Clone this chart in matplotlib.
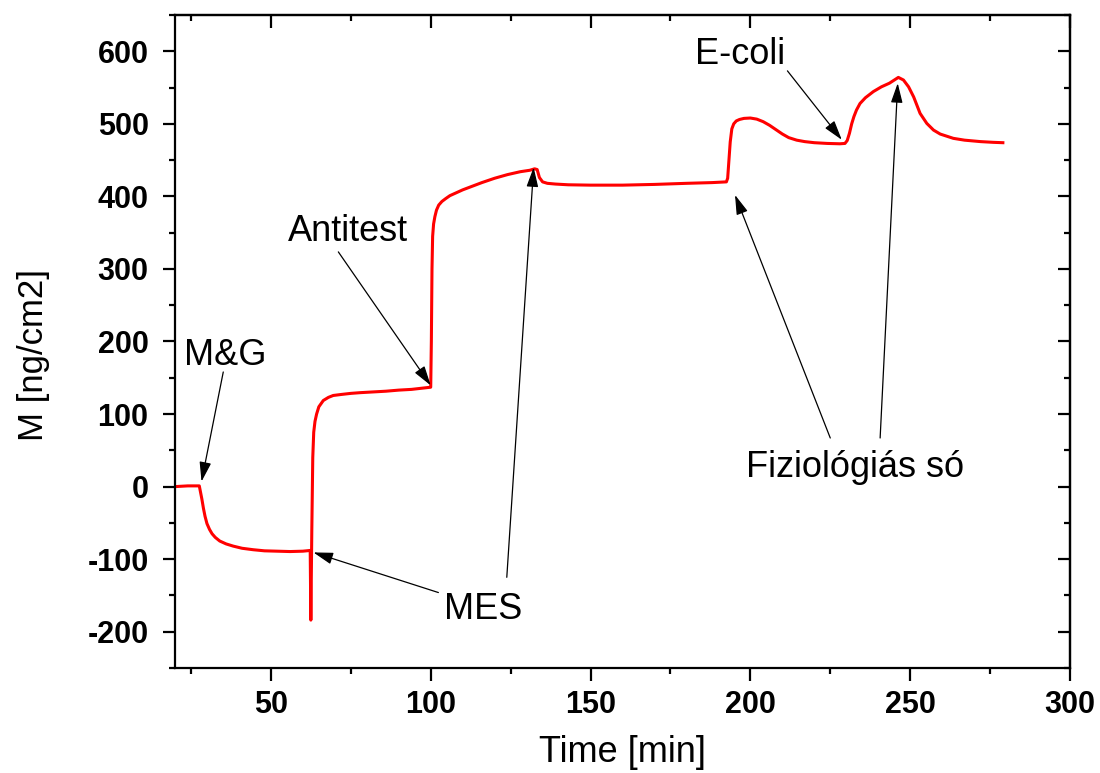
import matplotlib
matplotlib.use("Agg")
import matplotlib.pyplot as plt
from matplotlib.ticker import MultipleLocator

plt.rcParams['font.family'] = ['Liberation Sans', 'DejaVu Sans']
plt.rcParams['axes.unicode_minus'] = False

# ---- data ----
time_min = [20, 24, 27.6, 28.0, 28.4, 28.9, 29.4, 30.0, 30.8, 31.6, 32.6, 34.0, 36.0, 38.2,
            41, 44.5, 48, 52, 56, 60, 62.3, 62.5, 62.8, 63.1, 63.4, 63.8, 64.3, 65.0, 66.4,
            68, 69.5, 72, 75, 78, 82, 86, 90, 94, 98, 100.0, 100.2, 100.4, 100.6, 100.9,
            101.3, 101.8, 102.5, 103.5, 104.7, 106, 108, 110, 113, 116, 120, 124, 128, 131,
            132.5, 133.3, 134, 135, 136.5, 139, 143, 150, 160, 170, 180, 188, 192.5, 192.9,
            193.3, 193.7, 194.2, 194.8, 195.6, 196.6, 198, 200, 202, 204, 206, 208, 210, 212,
            214.5, 217, 220, 224, 228, 229.6, 230.3, 231, 231.7, 232.4, 233.2, 234.3, 236,
            238.5, 241, 243.5, 246.3, 247.9, 249.5, 251.1, 253.1, 255.2, 257.3, 259.4, 263.5,
            267, 272, 276, 279]
mass = [0, 1, 1, -8, -17, -30, -41, -51, -59, -65, -70, -75, -79, -82,
        -85, -87, -88.5, -89, -89.5, -89, -88, -184, -60, 40, 75, 90, 100, 110, 118.7,
        123, 125.6, 127, 128.5, 129.5, 130.5, 131.5, 133, 134, 136, 137, 200, 300, 345, 362,
        372, 381, 388, 393, 397, 401, 405, 409, 414, 419, 425, 430, 434, 436,
        438, 437, 426, 420, 418, 417, 416, 415.5, 415.5, 416.5, 418, 419, 420, 425,
        450, 475, 493, 500, 504, 506, 507.5, 508, 506.5, 503, 498, 492, 486, 481,
        477.5, 475.5, 474, 473, 472.5, 473, 477, 487, 500, 510, 519, 528, 536,
        544.5, 551, 556, 564, 560.4, 551, 537, 514.4, 500.6, 491.4, 485.9, 480,
        477.5, 475.5, 474.5, 474]

# annotations: label, text position, list of (tail, head) arrows
labels = ["M&G", "Antitest", "MES", "E-coli", "Fiziológiás só"]
label_pos = [(35.6, 181), (74, 351), (116.5, -170), (196.8, 595), (232.8, 26)]
arrow_tails = [[(35.1, 158)], [(71.1, 323.5)], [(102.4, -146), (123.8, -125)],
               [(211.6, 573)], [(225, 67), (240.6, 67)]]
arrow_heads = [[(28.3, 7)], [(100, 139.5)], [(63.3, -90.7), (132.2, 440)],
               [(228.6, 478)], [(195.2, 402), (246.1, 556)]]

x_ticks = [50, 100, 150, 200, 250, 300]
y_ticks = [-200, -100, 0, 100, 200, 300, 400, 500, 600]

fig = plt.figure(figsize=(11, 7.73), dpi=100)
ax = fig.add_axes([175/1100, 1-668/773, (1070-175)/1100, (668-15)/773])

ax.plot(time_min, mass, color='#ff0000', lw=2.2, solid_joinstyle='round')

ax.set_xlim(20, 300)
ax.set_ylim(-250, 650)
ax.set_xticks(x_ticks)
ax.set_yticks(y_ticks)
ax.xaxis.set_minor_locator(MultipleLocator(25))
ax.yaxis.set_minor_locator(MultipleLocator(50))

for s in ax.spines.values():
    s.set_linewidth(1.6)
ax.tick_params(which='major', direction='out', length=9, width=1.6,
               labelsize=22, top=False, right=False)
ax.tick_params(which='minor', direction='out', length=4.5, width=1.6, top=False, right=False)
for lab in ax.get_xticklabels() + ax.get_yticklabels():
    lab.set_fontweight('bold')
ax.tick_params(axis='x', pad=7)
ax.tick_params(axis='y', pad=10)

top = ax.secondary_xaxis('top')
top.set_xticks(x_ticks)
top.xaxis.set_minor_locator(MultipleLocator(25))
top.tick_params(which='major', direction='in', length=9, width=1.6, labeltop=False)
top.tick_params(which='minor', direction='in', length=4.5, width=1.6)
top.spines['top'].set_linewidth(1.6)

right = ax.secondary_yaxis('right')
right.set_yticks(y_ticks)
right.yaxis.set_minor_locator(MultipleLocator(50))
right.tick_params(which='major', direction='in', length=9, width=1.6, labelright=False)
right.tick_params(which='minor', direction='in', length=4.5, width=1.6)
right.spines['right'].set_linewidth(1.6)

ax.set_xlabel("Time [min]", fontsize=26, labelpad=11)
ax.set_ylabel("M [ng/cm2]", fontsize=25)
ax.yaxis.set_label_coords(-0.14, 0.48)

for lab, pos, tails, heads in zip(labels, label_pos, arrow_tails, arrow_heads):
    ax.text(pos[0], pos[1], lab, fontsize=26, ha='center', va='center')
    for tl, hd in zip(tails, heads):
        ax.annotate('', xy=hd, xytext=tl,
                    arrowprops=dict(arrowstyle='-|>,head_length=0.6,head_width=0.18',
                                    mutation_scale=20, lw=0.9, color='black',
                                    shrinkA=0, shrinkB=0))

fig.savefig("out.png", dpi=100)
